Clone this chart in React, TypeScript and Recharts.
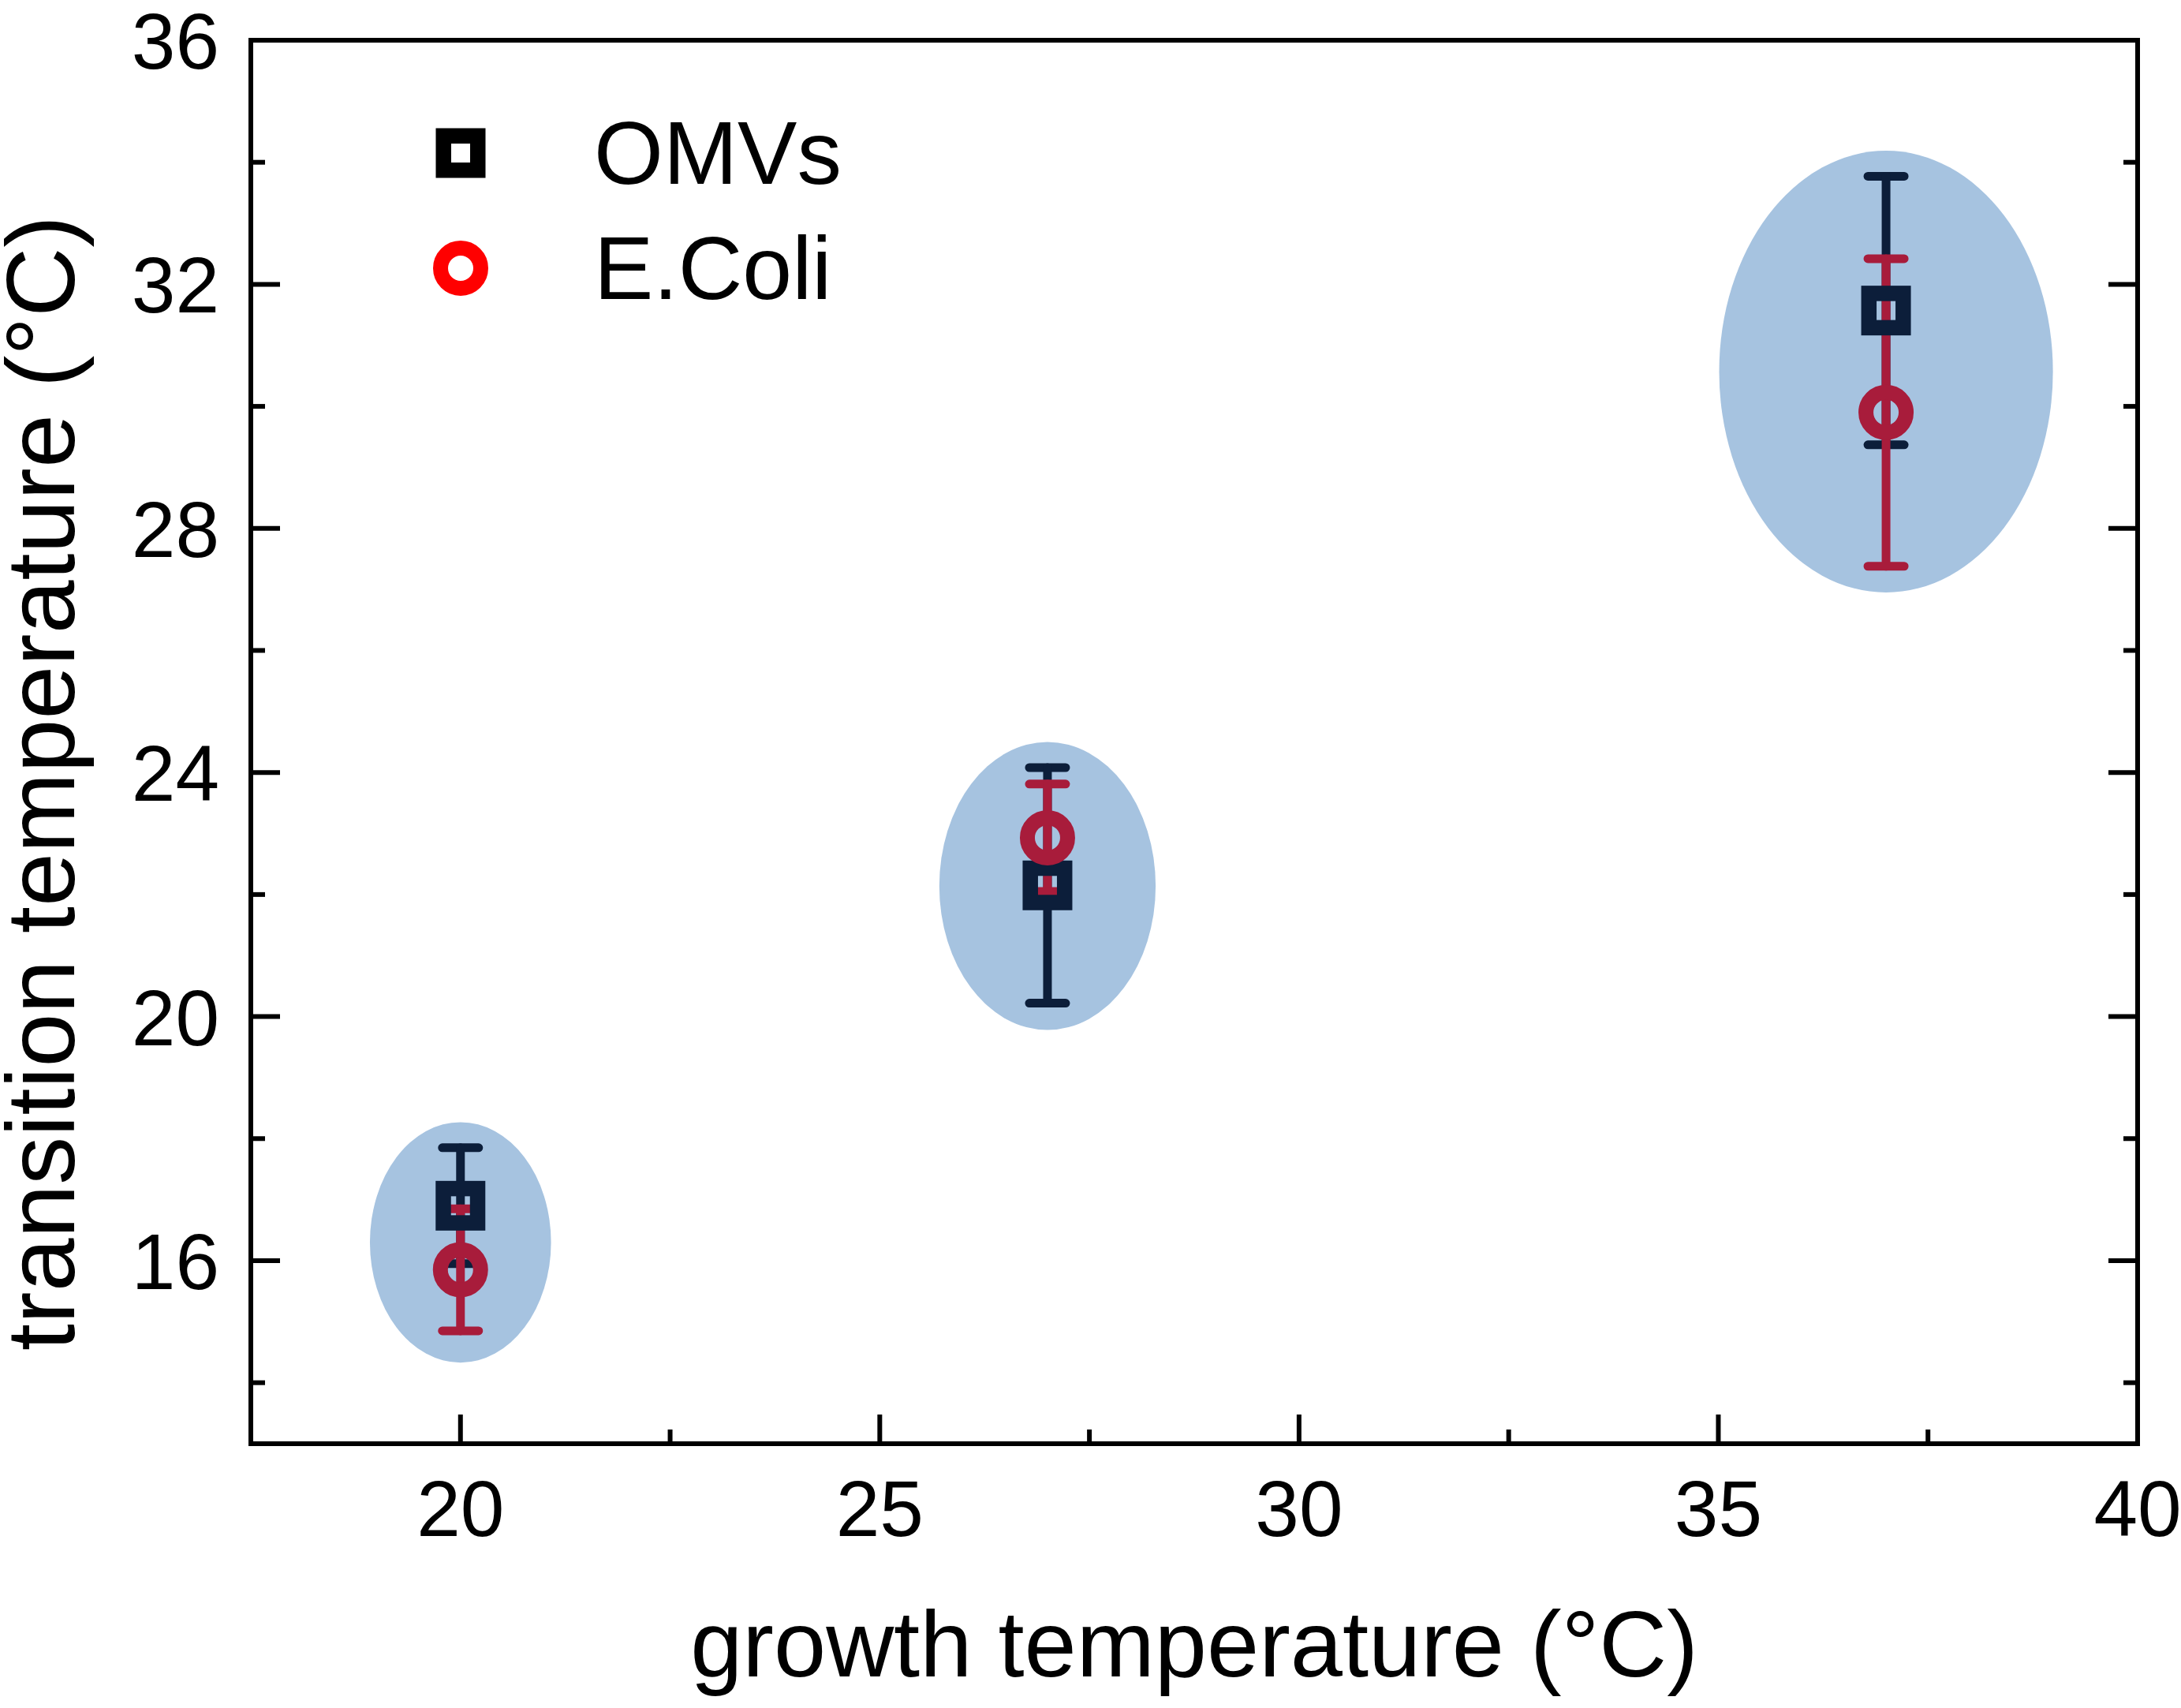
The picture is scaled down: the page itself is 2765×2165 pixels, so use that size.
import React from "react";
import { ScatterChart, Scatter, XAxis, YAxis, ErrorBar, Legend, ReferenceArea } from "recharts";

// values
const growthTemps = [20, 27, 37];
const omvsTransition = [16.9, 22.15, 31.57];
const omvsError = [0.95, 1.93, 2.2];
const ecoliTransition = [15.85, 22.93, 29.9];
const ecoliError = [1.0, 0.88, 2.52];

// shaded regions around each group (centre + half axes, data units)
const regionCentreY = [16.3, 22.14, 30.57];
const regionRx = [1.08, 1.29, 1.99];
const regionRy = [1.97, 2.36, 3.62];

const xMajorTicks = [20, 25, 30, 35, 40];
const xMinorTicks = [22.5, 27.5, 32.5, 37.5];
const yMajorTicks = [16, 20, 24, 28, 32, 36];
const yMinorTicks = [14, 18, 22, 26, 30, 34];

const X_DOMAIN: [number, number] = [17.5, 40];
const Y_DOMAIN: [number, number] = [13, 36];

const CHART_W = 2765;
const CHART_H = 2165;
const MARGIN = { top: 41, right: 45, bottom: 135, left: 118 };
const YL_W = 200;
const YR_W = 10;
const XB_H = 200;
const XT_H = 10;
const PLOT_W = CHART_W - MARGIN.left - MARGIN.right - YL_W - YR_W;
const PLOT_H = CHART_H - MARGIN.top - MARGIN.bottom - XB_H - XT_H;

const FONT = '"Liberation Sans", Arial, Helvetica, sans-serif';
const NAVY = "#0c1e3a";
const CRIMSON = "#a81c3b";
const REGION = "#a6c3e0";

const omvsData = growthTemps.map((x, i) => ({ x, y: omvsTransition[i], err: omvsError[i] }));
const ecoliData = growthTemps.map((x, i) => ({ x, y: ecoliTransition[i], err: ecoliError[i] }));
const regions = growthTemps.map((x, i) => ({
  x1: x - regionRx[i],
  x2: x + regionRx[i],
  y1: regionCentreY[i] - regionRy[i],
  y2: regionCentreY[i] + regionRy[i],
}));

const MAJOR_LEN = 37;
const MINOR_LEN = 18;
const TICK_W = 6;

const isMajor = (v: number, majors: number[]) => majors.includes(v);

function BottomTick(props: any) {
  const { x, y, payload } = props;
  const major = isMajor(payload.value, xMajorTicks);
  return (
    <g>
      <line x1={x} y1={y} x2={x} y2={y - (major ? MAJOR_LEN : MINOR_LEN)} stroke="#000" strokeWidth={TICK_W} />
      {major && (
        <text x={x} y={y + 117} textAnchor="middle" fontSize={100} fontFamily={FONT} fill="#000">
          {payload.value}
        </text>
      )}
    </g>
  );
}

function TopTick(props: any) {
  const { x, y, payload } = props;
  const major = isMajor(payload.value, xMajorTicks);
  return <line x1={x} y1={y} x2={x} y2={y + (major ? MAJOR_LEN : MINOR_LEN)} stroke="#000" strokeWidth={TICK_W} />;
}

function LeftTick(props: any) {
  const { x, y, payload } = props;
  const major = isMajor(payload.value, yMajorTicks);
  return (
    <g>
      <line x1={x} y1={y} x2={x + (major ? MAJOR_LEN : MINOR_LEN)} y2={y} stroke="#000" strokeWidth={TICK_W} />
      {major && (
        <text x={x - 40} y={y} dy="0.36em" textAnchor="end" fontSize={100} fontFamily={FONT} fill="#000">
          {payload.value}
        </text>
      )}
    </g>
  );
}

function RightTick(props: any) {
  const { x, y, payload } = props;
  const major = isMajor(payload.value, yMajorTicks);
  return <line x1={x} y1={y} x2={x - (major ? MAJOR_LEN : MINOR_LEN)} y2={y} stroke="#000" strokeWidth={TICK_W} />;
}

function XTitle(props: any) {
  const vb = props.viewBox ?? { x: MARGIN.left + YL_W, y: MARGIN.top + XT_H + PLOT_H, width: PLOT_W, height: XB_H };
  return (
    <text x={vb.x + vb.width / 2} y={vb.y + 295} textAnchor="middle" fontSize={119} fontFamily={FONT} fill="#000">
      growth temperature (°C)
    </text>
  );
}

function YTitle(props: any) {
  const vb = props.viewBox ?? { x: MARGIN.left, y: MARGIN.top + XT_H, width: YL_W, height: PLOT_H };
  const cx = vb.x - 24;
  const cy = vb.y + vb.height / 2 + 52;
  return (
    <text x={cx} y={cy} transform={`rotate(-90 ${cx} ${cy})`} textAnchor="middle" fontSize={122} fontFamily={FONT} fill="#000">
      transition temperature (°C)
    </text>
  );
}

const SQ = 43.5;
const SQ_STROKE = 19.5;
const CIRC_R = 25.5;
const CIRC_STROKE = 19;

function SquareMarker(props: any) {
  const { cx, cy } = props;
  return <rect x={cx - SQ / 2} y={cy - SQ / 2} width={SQ} height={SQ} fill="none" stroke={NAVY} strokeWidth={SQ_STROKE} />;
}

function CircleMarker(props: any) {
  const { cx, cy } = props;
  return <circle cx={cx} cy={cy} r={CIRC_R} fill="none" stroke={CRIMSON} strokeWidth={CIRC_STROKE} />;
}

// ellipse inscribed in the reference area's box
function EllipseShape(props: any) {
  const { x, y, width, height } = props;
  if (width == null || height == null) return null;
  return <ellipse cx={x + width / 2} cy={y + height / 2} rx={Math.abs(width) / 2} ry={Math.abs(height) / 2} fill={REGION} />;
}

const legendOrder = ["OMVs", "E.Coli"];
const legendMarkers: Record<string, { shape: "square" | "circle"; color: string }> = {
  OMVs: { shape: "square", color: "#000" },
  "E.Coli": { shape: "circle", color: "#ff0000" },
};

function LegendContent(props: any) {
  const items = (props.payload ?? [])
    .filter((p: any) => legendMarkers[p.value])
    .sort((a: any, b: any) => legendOrder.indexOf(a.value) - legendOrder.indexOf(b.value));
  return (
    <div>
      {items.map((p: any) => {
        const m = legendMarkers[p.value];
        return (
          <div key={p.value} style={{ display: "flex", alignItems: "center", height: 146 }}>
            <svg width={80} height={80} style={{ display: "block" }}>
              {m.shape === "square" ? (
                <rect x={40 - SQ / 2} y={40 - SQ / 2} width={SQ} height={SQ} fill="none" stroke={m.color} strokeWidth={SQ_STROKE} />
              ) : (
                <circle cx={40} cy={40} r={CIRC_R} fill="none" stroke={m.color} strokeWidth={CIRC_STROKE} />
              )}
            </svg>
            <span style={{ marginLeft: 129, fontSize: 113, fontFamily: FONT, color: "#000", lineHeight: 1 }}>{p.value}</span>
          </div>
        );
      })}
    </div>
  );
}

const frame = { stroke: "#000", strokeWidth: 6, strokeLinecap: "square" as const };

export default function App() {
  return (
    <div style={{ position: "absolute", left: 0, top: 0, background: "#fff" }}>
      <ScatterChart width={CHART_W} height={CHART_H} margin={MARGIN}>
        <XAxis
          xAxisId="x"
          type="number"
          dataKey="x"
          domain={X_DOMAIN}
          allowDataOverflow
          ticks={[...xMajorTicks, ...xMinorTicks]}
          interval={0}
          tickSize={0}
          tickMargin={0}
          tickLine={false}
          tick={<BottomTick />}
          axisLine={frame}
          height={XB_H}
          label={<XTitle />}
        />
        <XAxis
          xAxisId="top"
          orientation="top"
          type="number"
          domain={X_DOMAIN}
          allowDataOverflow
          ticks={[...xMajorTicks, ...xMinorTicks]}
          interval={0}
          tickSize={0}
          tickMargin={0}
          tickLine={false}
          tick={<TopTick />}
          axisLine={frame}
          height={XT_H}
        />
        <YAxis
          yAxisId="y"
          type="number"
          dataKey="y"
          domain={Y_DOMAIN}
          allowDataOverflow
          ticks={[...yMajorTicks, ...yMinorTicks]}
          interval={0}
          tickSize={0}
          tickMargin={0}
          tickLine={false}
          tick={<LeftTick />}
          axisLine={frame}
          width={YL_W}
          label={<YTitle />}
        />
        <YAxis
          yAxisId="right"
          orientation="right"
          type="number"
          domain={Y_DOMAIN}
          allowDataOverflow
          ticks={[...yMajorTicks, ...yMinorTicks]}
          interval={0}
          tickSize={0}
          tickMargin={0}
          tickLine={false}
          tick={<RightTick />}
          axisLine={frame}
          width={YR_W}
        />

        {regions.map((r, i) => (
          <ReferenceArea
            key={i}
            xAxisId="x"
            yAxisId="y"
            x1={r.x1}
            x2={r.x2}
            y1={r.y1}
            y2={r.y2}
            ifOverflow="visible"
            shape={<EllipseShape />}
          />
        ))}

        <Scatter name="OMVs" data={omvsData} xAxisId="x" yAxisId="y" shape={<SquareMarker />} fill="#000" isAnimationActive={false}>
          <ErrorBar dataKey="err" direction="y" width={23} stroke={NAVY} strokeWidth={11} strokeLinecap="round" isAnimationActive={false} />
        </Scatter>
        <Scatter name="E.Coli" data={ecoliData} xAxisId="x" yAxisId="y" shape={<CircleMarker />} fill="#ff0000" isAnimationActive={false}>
          <ErrorBar dataKey="err" direction="y" width={23} stroke={CRIMSON} strokeWidth={11} strokeLinecap="round" isAnimationActive={false} />
        </Scatter>

        <Legend
          layout="vertical"
          align="center"
          verticalAlign="middle"
          content={<LegendContent />}
          wrapperStyle={{ position: "absolute", left: 544, top: 121, width: "auto", height: "auto" }}
        />
      </ScatterChart>
    </div>
  );
}
